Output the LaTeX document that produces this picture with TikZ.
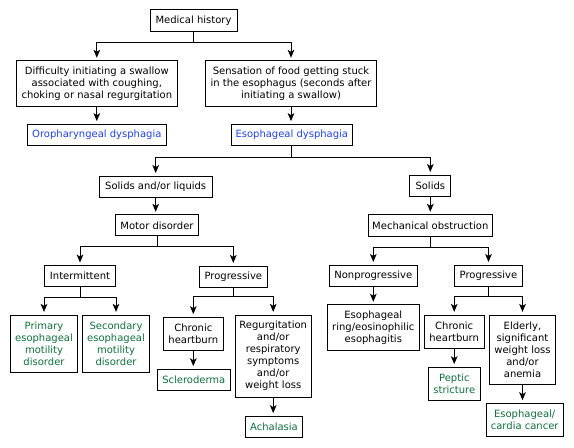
\documentclass[tikz,border=0pt]{standalone}
\usepackage{fontspec}
\setmainfont{DejaVu Sans}
\usetikzlibrary{arrows.meta,calc}
\definecolor{dxblue}{RGB}{30,65,230}
\definecolor{dxgreen}{RGB}{15,110,60}

\begin{document}
\begin{tikzpicture}[x=0.75pt,y=0.75pt,yscale=-1,xscale=1,
  box/.style={draw,line width=0.75pt,align=center,inner sep=0pt,font=\fontsize{7.5}{9}\selectfont},
  sz/.style 2 args={minimum width=#1*0.75pt,minimum height=#2*0.75pt},
  finding/.style={box,text=dxblue},
  result/.style={box,text=dxgreen},
  link/.style={line width=0.75pt},
  arr/.style={link,-{Stealth[length=6pt,width=5pt,inset=1.5pt]},shorten >=2pt}]
%set diagram frame, 574 x 448
\useasboundingbox (0,0) rectangle (574,448);

% Text Node
\node[box,sz={87}{22}] (hist) at (193.5,21) {Medical history};
% Text Node
\node[box,sz={161}{45.7}] (diff) at (96.8,83.8) {Difficulty initiating a swallow\\associated with coughing,\\choking or nasal regurgitation};
% Text Node
\node[box,sz={171.4}{45.7}] (sens) at (291,83.8) {Sensation of food getting stuck\\in the esophagus (seconds after\\initiating a swallow)};
% Text Node
\node[finding,sz={139}{21.4}] (oro) at (96.8,135) {Oropharyngeal dysphagia};
% Text Node
\node[finding,sz={121}{21.4}] (eso) at (291.8,135) {Esophageal dysphagia};
% Text Node
\node[box,sz={112.7}{21}] (solliq) at (155.7,186.7) {Solids and/or liquids};
% Text Node
\node[box,sz={40.7}{21.7}] (sol) at (430.3,186) {Solids};
% Text Node
\node[box,sz={82.6}{21}] (motor) at (157,225.5) {Motor disorder};
% Text Node
\node[box,sz={124}{21.7}] (mech) at (430.3,225.8) {Mechanical obstruction};
% Text Node
\node[box,sz={71.4}{21}] (inter) at (80,276.2) {Intermittent};
% Text Node
\node[box,sz={68}{21}] (progl) at (233.3,276.6) {Progressive};
% Text Node
\node[box,sz={88}{21.7}] (nonprog) at (373.3,276) {Nonprogressive};
% Text Node
\node[box,sz={68.4}{21.7}] (progr) at (488.5,276) {Progressive};
% Text Node
\node[result,sz={67.4}{57.3}] (primary) at (44,343.7) {Primary\\esophageal\\motility\\disorder};
% Text Node
\node[result,sz={67.4}{57.3}] (second) at (116,343.7) {Secondary\\esophageal\\motility\\disorder};
% Text Node
\node[box,sz={60}{33.4}] (burnl) at (193.3,334) {Chronic\\heartburn};
% Text Node
\node[box,sz={75.7}{82.3}] (regurg) at (273.2,356.2) {Regurgitation\\and/or\\respiratory\\symptoms\\and/or\\weight loss};
% Text Node
\node[result,sz={73}{20.7}] (sclero) at (193.8,379.7) {Scleroderma};
% Text Node
\node[result,sz={56.6}{21}] (achal) at (274,426.8) {Achalasia};
% Text Node
\node[box,sz={92}{45.7}] (ring) at (373.3,327.8) {Esophageal\\ring/eosinophilic\\esophagitis};
% Text Node
\node[box,sz={59.7}{33.3}] (burnr) at (454.2,331.7) {Chronic\\heartburn};
% Text Node
\node[box,sz={66.4}{69.3}] (elderly) at (522.5,349.7) {Elderly,\\significant\\weight loss\\and/or\\anemia};
% Text Node
\node[result,sz={52}{32.7}] (peptic) at (454.3,383.7) {Peptic\\stricture};
% Text Node
\node[result,sz={77.3}{32.7}] (cancer) at (524.7,419.7) {Esophageal/\\cardia cancer};

%Straight Lines
\draw[link] (hist.south) -- ++(0,10.3) coordinate (b1);
\draw[arr] (b1) -| (diff.north);
\draw[arr] (b1) -| (sens.north);
\draw[arr] (diff.south) -- (oro.north);
\draw[arr] (sens.south) -- (sens.south |- eso.north);
%Straight Lines
\draw[link] (eso.south) -- ++(0,11) coordinate (b2);
\draw[arr] (b2) -| (solliq.north);
\draw[arr] (b2) -| (sol.north);
\draw[arr] (solliq.south) -- (solliq.south |- motor.north);
\draw[arr] (sol.south) -- (mech.north);
%Straight Lines
\draw[link] (motor.south) -- ++(0,9.7) coordinate (b3);
\draw[arr] (b3) -| (inter.north);
\draw[arr] (b3) -| (progl.north);
\draw[link] (mech.south) -- ++(0,10) coordinate (b4);
\draw[arr] (b4) -| (nonprog.north);
\draw[arr] (b4) -| (progr.north);
%Straight Lines
\draw[link] (inter.south) -- ++(0,10) coordinate (b5);
\draw[arr] (b5) -| (primary.north);
\draw[arr] (b5) -| (second.north);
\draw[link] (progl.south) -- ++(0,9.4) coordinate (b6);
\draw[arr] (b6) -| (burnl.north);
\draw[arr] (b6) -| (regurg.north);
\draw[arr] (nonprog.south) -- (ring.north);
\draw[link] (progr.south) -- ++(0,9) coordinate (b7);
\draw[arr] (b7) -| (burnr.north);
\draw[arr] (b7) -| (elderly.north);
%Straight Lines
\draw[arr] (burnl.south) -- (burnl.south |- sclero.north);
\draw[arr] (regurg.south) -- (regurg.south |- achal.north);
\draw[arr] (burnr.south) -- (burnr.south |- peptic.north);
\draw[arr] (elderly.south) -- (elderly.south |- cancer.north);

\end{tikzpicture}
\end{document}
